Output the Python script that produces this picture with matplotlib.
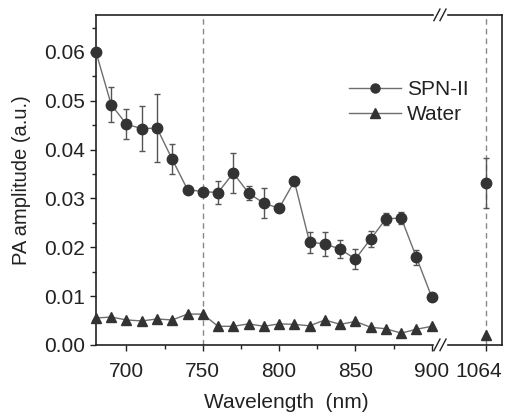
import matplotlib.pyplot as plt
from matplotlib.lines import Line2D
from matplotlib.transforms import ScaledTranslation
import numpy as np

plt.rcParams['font.family'] = ['Liberation Sans', 'DejaVu Sans']

wl = np.arange(680, 901, 10)
spn = [0.0600, 0.0492, 0.0452, 0.0443, 0.0444, 0.0380, 0.0318, 0.0314, 0.0312, 0.0352,
       0.0311, 0.0290, 0.0280, 0.0335, 0.0210, 0.0207, 0.0196, 0.0176, 0.0217, 0.0258,
       0.0260, 0.0179, 0.0098]
spn_err = [0.0, 0.0036, 0.0031, 0.0046, 0.0070, 0.0031, 0.0, 0.0, 0.0023, 0.0041,
           0.0015, 0.0031, 0.0, 0.0, 0.0022, 0.0024, 0.0019, 0.0020, 0.0016, 0.0013,
           0.0013, 0.0016, 0.0]
water = [0.0055, 0.0057, 0.0051, 0.0049, 0.0053, 0.0051, 0.0063, 0.0063, 0.0038, 0.0038,
         0.0043, 0.0038, 0.0043, 0.0042, 0.0039, 0.0051, 0.0042, 0.0048, 0.0036, 0.0033,
         0.0024, 0.0032, 0.0038]
wl_far = 1064
spn_far, spn_far_err = 0.0331, 0.0051
water_far = 0.0020

mk = '#333333'
ln = '#6e6e6e'
txt = '#222222'

fig = plt.figure(figsize=(5.05, 4.13), dpi=100)
gs = fig.add_gridspec(1, 2, width_ratios=[344, 62], wspace=0,
                      left=0.190, right=0.994, top=0.964, bottom=0.165)
ax1 = fig.add_subplot(gs[0])
ax2 = fig.add_subplot(gs[1], sharey=ax1)

ax1.axvline(750, color='#888888', ls='--', lw=1, dashes=(4, 3), zorder=1)
ax2.axvline(wl_far, color='#888888', ls='--', lw=1, dashes=(4, 3), zorder=1)

ax1.errorbar(wl, spn, yerr=spn_err, color=ln, lw=1, marker='o', ms=7.5, mfc=mk, mec=mk,
             ecolor='#555555', elinewidth=1, capsize=2.5, clip_on=False, zorder=3)
ax1.plot(wl, water, color=ln, lw=1, marker='^', ms=7, mfc=mk, mec=mk,
         clip_on=False, zorder=3)
ax2.errorbar([wl_far], [spn_far], yerr=[spn_far_err], color=ln, lw=1, marker='o', ms=7.5,
             mfc=mk, mec=mk, ecolor='#555555', elinewidth=1, capsize=2.5, zorder=3)
ax2.plot([wl_far], [water_far], color=ln, marker='^', ms=7, mfc=mk, mec=mk, zorder=3)

ax1.set_xlim(680, 905.4)
ax2.set_xlim(1033.9, 1074.5)
ax1.set_ylim(0, 0.0676)

ax1.set_xticks([700, 750, 800, 850, 900])
ax1.set_xticks([725, 775, 825, 875], minor=True)
ax2.set_xticks([wl_far])
ax1.set_yticks(np.arange(0, 0.061, 0.01))
ax1.set_yticks(np.arange(0.005, 0.066, 0.01), minor=True)
ax1.set_yticklabels(['%.2f' % v for v in np.arange(0, 0.061, 0.01)])

for ax in (ax1, ax2):
    ax.tick_params(which='both', direction='out', colors=txt, labelsize=15, width=1)
    ax.tick_params(which='major', length=4.5)
    ax.tick_params(which='minor', length=3)
    ax.tick_params(axis='x', pad=8)
    for s in ax.spines.values():
        s.set_color(txt)
        s.set_linewidth(1.2)
ax1.spines['right'].set_visible(False)
ax2.spines['left'].set_visible(False)
ax2.tick_params(axis='y', which='both', left=False, labelleft=False)

# nudge the 1064 label left so it fits like the reference
for lab in ax2.get_xticklabels():
    lab.set_transform(lab.get_transform() + ScaledTranslation(-5 / 72, 0, fig.dpi_scale_trans))

ax1.set_ylabel('PA amplitude (a.u.)', fontsize=14.5, color=txt, labelpad=9)
fig.text(0.566, 0.012, 'Wavelength  (nm)', fontsize=15, color=txt, ha='center')

handles = [Line2D([], [], color=ln, lw=1, marker='o', ms=6.5, mfc=mk, mec=mk),
           Line2D([], [], color=ln, lw=1, marker='^', ms=6.5, mfc=mk, mec=mk)]
leg = fig.legend(handles, ['SPN-II', 'Water'], loc='center left',
                 bbox_to_anchor=(0.653, 0.753), frameon=False, fontsize=15,
                 handlelength=2.5, handletextpad=0.3, labelspacing=0.3)
for t in leg.get_texts():
    t.set_color(txt)

# break marks on the axis
xb = 0.190 + (0.994 - 0.190) * 344 / 406
for yb in (0.165, 0.964):
    fig.patches.append(plt.Rectangle((xb - 0.012, yb - 0.006), 0.024, 0.012, color='white',
                                     transform=fig.transFigure, zorder=5))
    for dx in (-0.006, 0.006):
        fig.add_artist(Line2D([xb + dx - 0.006, xb + dx + 0.006], [yb - 0.014, yb + 0.014],
                              color=txt, lw=1, transform=fig.transFigure, zorder=6))

fig.savefig('out.png', dpi=100)
